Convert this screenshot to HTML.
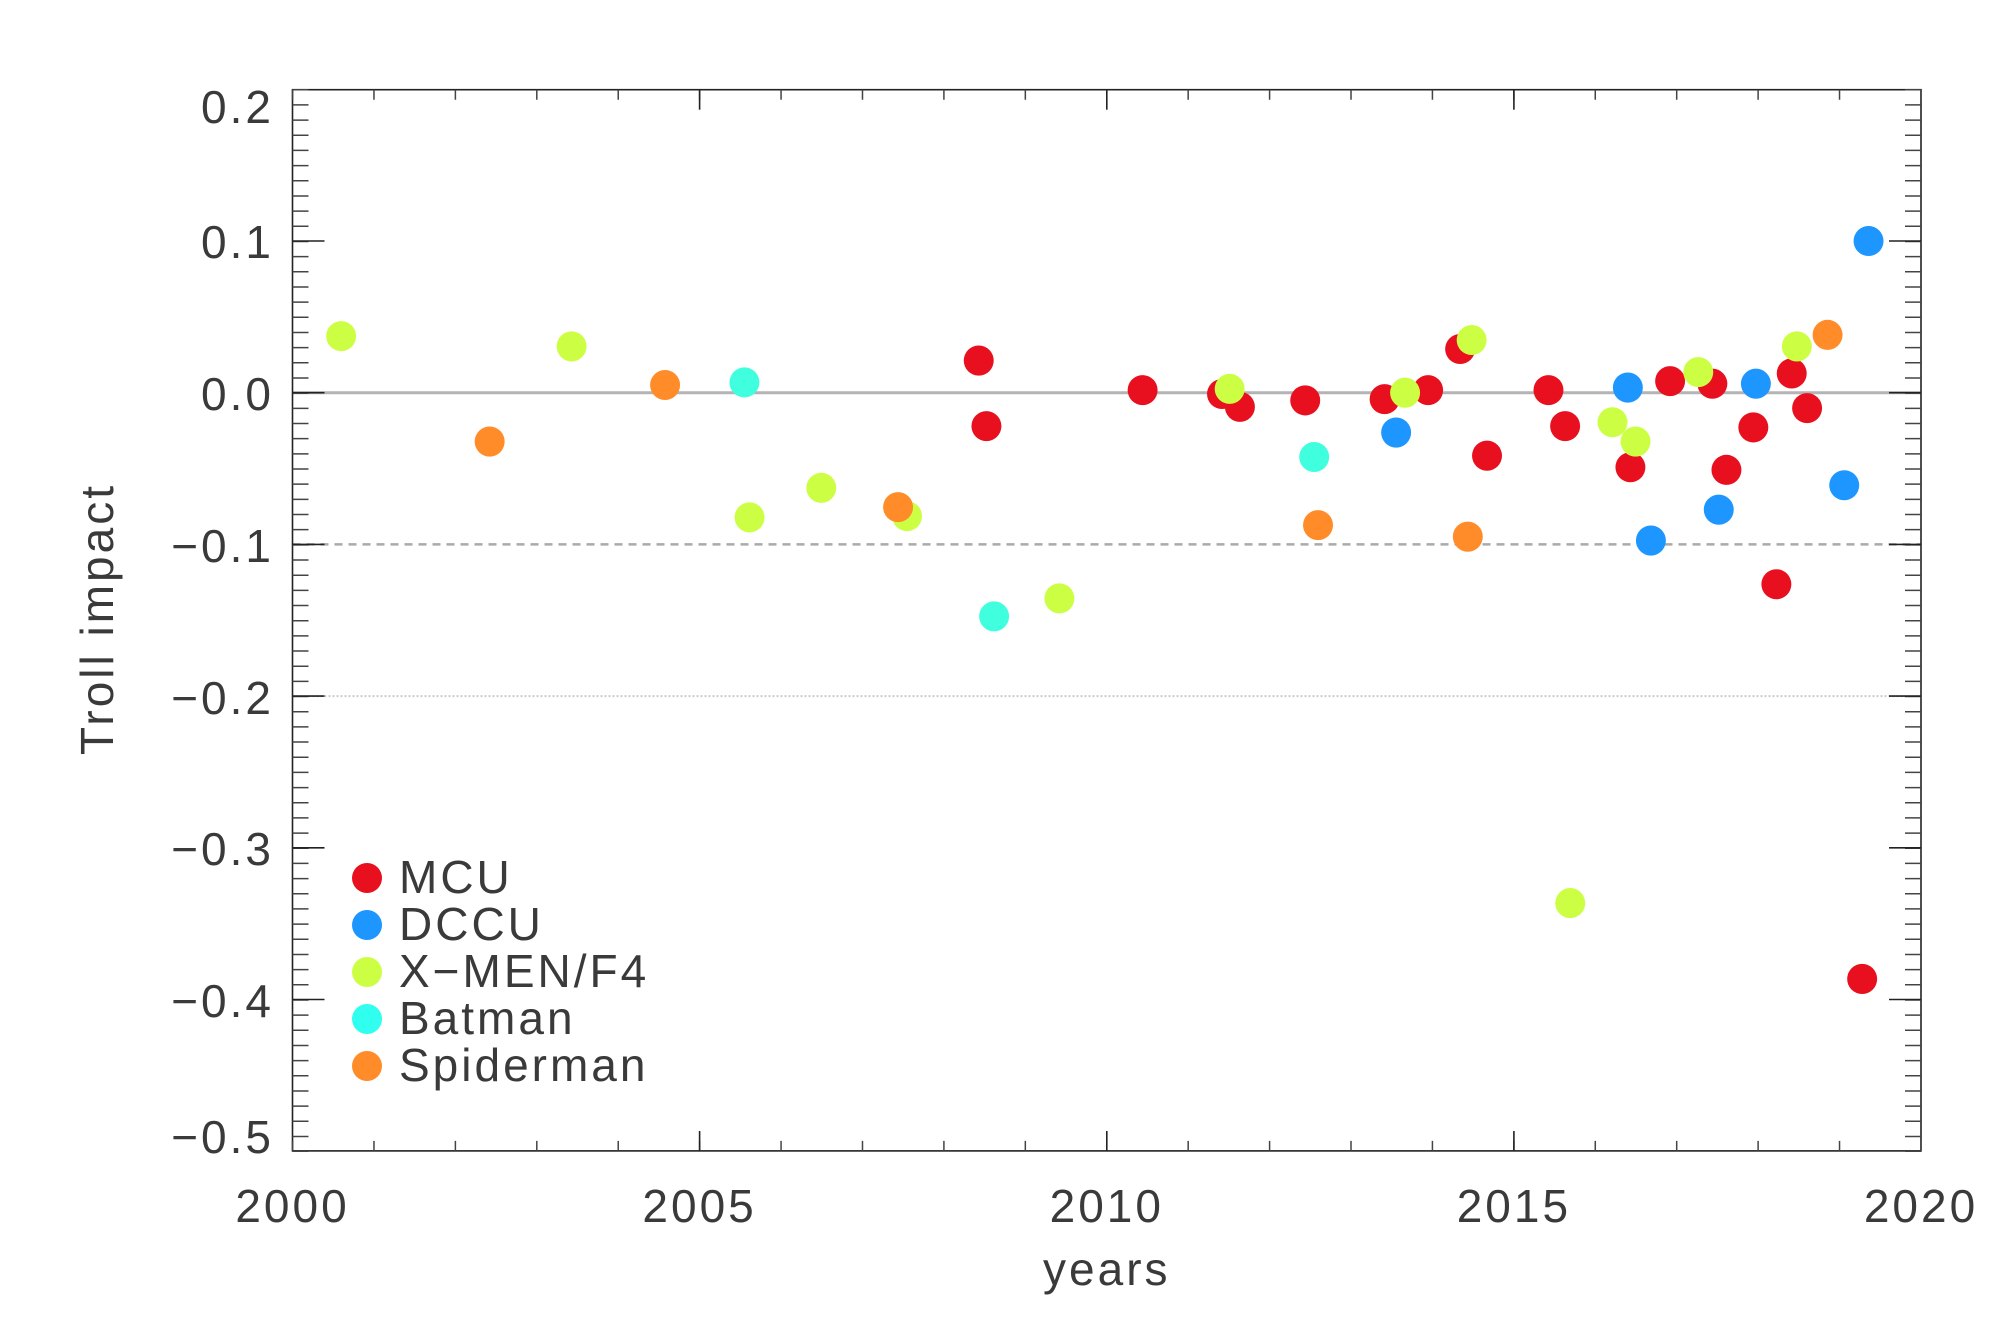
<!DOCTYPE html>
<html><head><meta charset="utf-8"><style>
html,body{margin:0;padding:0;background:#fff;}
svg{display:block;}
text{font-family:"Liberation Sans",sans-serif;fill:#3a3a3a;}
</style></head><body>
<svg width="2006" height="1336" viewBox="0 0 2006 1336" xmlns="http://www.w3.org/2000/svg">
<rect width="2006" height="1336" fill="#fff"/>
<line x1="292.5" y1="392.7" x2="1921" y2="392.7" stroke="#b4b4b4" stroke-width="3"/>
<line x1="292.5" y1="544.4" x2="1921" y2="544.4" stroke="#aaa" stroke-width="2.5" stroke-dasharray="8 6"/>
<line x1="292.5" y1="696.1" x2="1921" y2="696.1" stroke="#ccc" stroke-width="2" stroke-dasharray="2 2"/>
<rect x="292.5" y="89.7" width="1628.5" height="1061.2" fill="none" stroke="#222" stroke-width="1.6"/>
<line x1="300.5" y1="89" x2="300.5" y2="1152" stroke="#444" stroke-width="16" stroke-dasharray="1.5 13.67"/>
<line x1="1913" y1="89" x2="1913" y2="1152" stroke="#444" stroke-width="16" stroke-dasharray="1.5 13.67"/>
<line x1="291.8" y1="1145.9" x2="1922" y2="1145.9" stroke="#444" stroke-width="10" stroke-dasharray="1.5 79.92"/>
<line x1="291.8" y1="94.7" x2="1922" y2="94.7" stroke="#444" stroke-width="10" stroke-dasharray="1.5 79.92"/>
<g stroke="#222" stroke-width="1.6">
<line x1="292.5" y1="241" x2="324.5" y2="241"/><line x1="1889" y1="241" x2="1921" y2="241"/>
<line x1="292.5" y1="392.7" x2="324.5" y2="392.7"/><line x1="1889" y1="392.7" x2="1921" y2="392.7"/>
<line x1="292.5" y1="544.4" x2="324.5" y2="544.4"/><line x1="1889" y1="544.4" x2="1921" y2="544.4"/>
<line x1="292.5" y1="696.1" x2="324.5" y2="696.1"/><line x1="1889" y1="696.1" x2="1921" y2="696.1"/>
<line x1="292.5" y1="847.8" x2="324.5" y2="847.8"/><line x1="1889" y1="847.8" x2="1921" y2="847.8"/>
<line x1="292.5" y1="999.5" x2="324.5" y2="999.5"/><line x1="1889" y1="999.5" x2="1921" y2="999.5"/>
<line x1="699.6" y1="1151" x2="699.6" y2="1131"/><line x1="699.6" y1="89.7" x2="699.6" y2="109.7"/>
<line x1="1106.8" y1="1151" x2="1106.8" y2="1131"/><line x1="1106.8" y1="89.7" x2="1106.8" y2="109.7"/>
<line x1="1513.9" y1="1151" x2="1513.9" y2="1131"/><line x1="1513.9" y1="89.7" x2="1513.9" y2="109.7"/>
</g>
<g font-size="46" text-anchor="end" letter-spacing="3">
<text x="274" y="123">0.2</text>
<text x="274" y="258">0.1</text>
<text x="274" y="410">0.0</text>
<text x="274" y="562">−0.1</text>
<text x="274" y="714">−0.2</text>
<text x="274" y="865">−0.3</text>
<text x="274" y="1017">−0.4</text>
<text x="274" y="1153">−0.5</text>
</g>
<g font-size="46" text-anchor="middle" letter-spacing="3">
<text x="292.5" y="1222">2000</text>
<text x="699.6" y="1222">2005</text>
<text x="1106.8" y="1222">2010</text>
<text x="1513.9" y="1222">2015</text>
<text x="1921" y="1222">2020</text>
<text x="1106.8" y="1285">years</text>
</g>
<text font-size="46" letter-spacing="3" text-anchor="middle" transform="translate(113 619) rotate(-90)">Troll impact</text>
<g transform="translate(292.5 392.7) scale(1.2803 1.2856)">
<g fill="#e8101e">
<circle cx="536" cy="-25" r="11.7"/><circle cx="542" cy="26" r="11.7"/><circle cx="664" cy="-2" r="11.7"/>
<circle cx="726" cy="1" r="11.7"/><circle cx="740" cy="11" r="11.7"/><circle cx="791" cy="6" r="11.7"/>
<circle cx="853" cy="5" r="11.7"/><circle cx="887" cy="-2" r="11.7"/><circle cx="912" cy="-34" r="11.7"/>
<circle cx="933" cy="49" r="11.7"/><circle cx="981" cy="-2" r="11.7"/><circle cx="994" cy="26" r="11.7"/>
<circle cx="1045" cy="58" r="11.7"/><circle cx="1076" cy="-9" r="11.7"/><circle cx="1109" cy="-7" r="11.7"/>
<circle cx="1120" cy="60" r="11.7"/><circle cx="1141" cy="27" r="11.7"/><circle cx="1159" cy="149" r="11.7"/>
<circle cx="1171" cy="-15" r="11.7"/><circle cx="1183" cy="12" r="11.7"/><circle cx="1226" cy="456" r="11.7"/>
</g>
<g fill="#1e96ff">
<circle cx="862" cy="31" r="11.7"/><circle cx="1043" cy="-4" r="11.7"/><circle cx="1061" cy="115" r="11.7"/>
<circle cx="1114" cy="91" r="11.7"/><circle cx="1143" cy="-7" r="11.7"/><circle cx="1212" cy="72" r="11.7"/>
<circle cx="1231" cy="-118" r="11.7"/>
</g>
<g fill="#ccff44">
<circle cx="38" cy="-44" r="11.7"/><circle cx="218" cy="-36" r="11.7"/><circle cx="357" cy="97" r="11.7"/>
<circle cx="413" cy="74" r="11.7"/><circle cx="480" cy="96" r="11.7"/><circle cx="599" cy="160" r="11.7"/>
<circle cx="732" cy="-3" r="11.7"/><circle cx="869" cy="0" r="11.7"/><circle cx="921" cy="-41" r="11.7"/>
<circle cx="998" cy="397" r="11.7"/><circle cx="1031" cy="23" r="11.7"/><circle cx="1049" cy="38" r="11.7"/>
<circle cx="1098" cy="-16" r="11.7"/><circle cx="1175" cy="-36" r="11.7"/>
</g>
<g fill="#40ffdf">
<circle cx="353" cy="-8" r="11.7"/><circle cx="548" cy="174" r="11.7"/><circle cx="798" cy="50" r="11.7"/>
</g>
<g fill="#ff8c28">
<circle cx="154" cy="38" r="11.7"/><circle cx="291" cy="-6" r="11.7"/><circle cx="473" cy="89" r="11.7"/>
<circle cx="801" cy="103" r="11.7"/><circle cx="918" cy="112" r="11.7"/><circle cx="1199" cy="-45" r="11.7"/>
</g>
</g>
<circle cx="367" cy="878" r="15" fill="#e8101e"/>
<circle cx="367" cy="925" r="15" fill="#1e96ff"/>
<circle cx="367" cy="972" r="15" fill="#ccff44"/>
<circle cx="367" cy="1019" r="15" fill="#30fff0"/>
<circle cx="367" cy="1066" r="15" fill="#ff8c28"/>
<g font-size="46" letter-spacing="3">
<text x="399" y="893">MCU</text>
<text x="399" y="940">DCCU</text>
<text x="399" y="987">X−MEN/F4</text>
<text x="399" y="1034">Batman</text>
<text x="399" y="1081">Spiderman</text>
</g>
</svg>
</body></html>
